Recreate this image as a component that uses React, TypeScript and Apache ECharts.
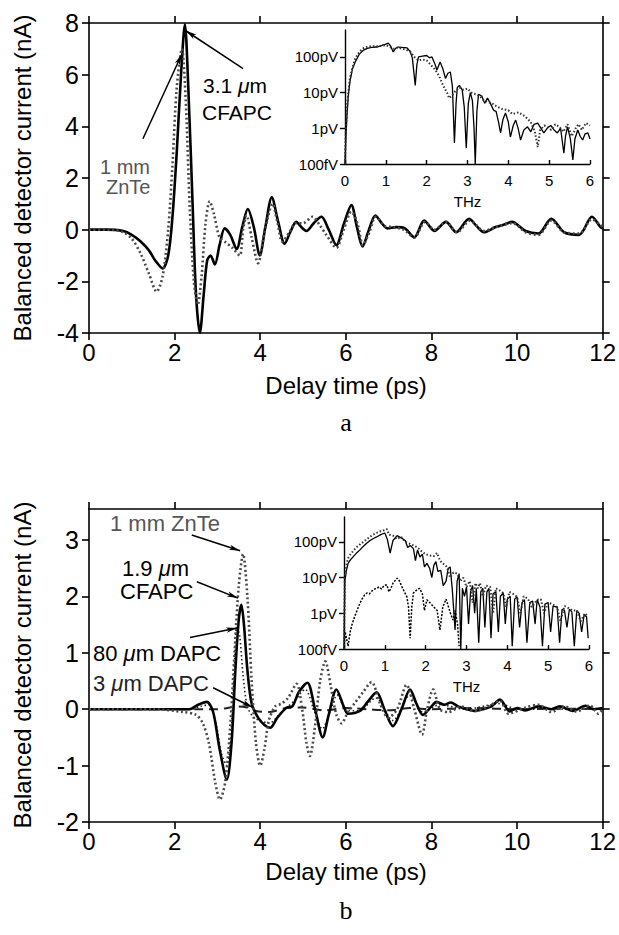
import React, { useEffect, useRef } from 'react';
import * as echarts from 'echarts';

// ---------- tick labels ----------
const delayTicks = [0, 2, 4, 6, 8, 10, 12];
const aCurrentTicks = [-4, -2, 0, 2, 4, 6, 8];
const bCurrentTicks = [-2, -1, 0, 1, 2, 3];
const thzTicks = [0, 1, 2, 3, 4, 5, 6];
const voltTickValues = [0.1, 1, 10, 100];
const voltTickLabels = ['100fV', '1pV', '10pV', '100pV'];

// ---------- panel a, time domain [ps, nA] ----------
const aCfapcTime = [[0,0],[0.4,0.0],[0.8,-0.05],[1.0,-0.2],[1.2,-0.45],[1.4,-0.8],[1.55,-1.2],[1.72,-1.5],[1.85,-1.0],[1.95,0.5],[2.05,3.0],[2.15,6.0],[2.24,7.95],[2.32,5.5],[2.42,1.0],[2.5,-2.5],[2.59,-4.0],[2.68,-2.5],[2.76,-1.2],[2.84,-1.0],[2.94,-1.35],[3.05,-0.6],[3.17,0.05],[3.3,-0.2],[3.45,-0.75],[3.58,0.1],[3.71,0.8],[3.85,0.1],[3.99,-1.0],[4.12,0.1],[4.27,1.25],[4.42,0.3],[4.57,-0.55],[4.7,-0.1],[4.84,0.3],[4.96,0.1],[5.08,-0.05],[5.25,0.25],[5.43,0.5],[5.6,0.0],[5.78,-0.6],[5.95,0.2],[6.13,0.95],[6.26,0.1],[6.39,-0.65],[6.54,0.0],[6.69,0.55],[6.84,0.25],[6.97,0.05],[7.18,0.1],[7.38,0.05],[7.6,-0.3],[7.83,0.35],[8.07,-0.05],[8.34,0.3],[8.58,-0.1],[8.88,0.42],[9.05,0.15],[9.23,-0.1],[9.5,0.1],[9.7,0.2],[9.88,0.3],[10.2,-0.05],[10.5,-0.15],[10.8,0.42],[11.1,-0.1],[11.45,-0.2],[11.75,0.5],[11.95,0.1],[12,0.05]];
const aZnteTime = [[0,0],[0.5,0.0],[0.8,-0.1],[1.0,-0.35],[1.2,-0.9],[1.4,-1.7],[1.58,-2.4],[1.72,-1.8],[1.85,0.0],[1.95,2.5],[2.05,5.5],[2.17,7.0],[2.26,5.0],[2.35,1.0],[2.45,-2.0],[2.54,-2.9],[2.63,-1.8],[2.72,0.2],[2.82,1.1],[2.92,0.6],[3.05,-0.3],[3.2,-0.5],[3.35,-0.7],[3.52,-1.0],[3.6,0.0],[3.68,0.55],[3.8,-0.3],[3.95,-1.3],[4.1,-0.1],[4.29,1.0],[4.4,0.3],[4.52,-0.47],[4.68,-0.1],[4.84,0.25],[5.0,0.25],[5.22,0.5],[5.4,0.15],[5.55,-0.22],[5.78,-0.7],[5.95,0.0],[6.13,0.7],[6.28,0.2],[6.4,-0.6],[6.55,-0.1],[6.7,0.5],[6.9,0.15],[7.1,0.1],[7.35,0.0],[7.6,-0.3],[7.85,0.3],[8.07,0.0],[8.34,0.3],[8.6,-0.1],[8.9,0.35],[9.23,-0.05],[9.5,0.1],[9.9,0.25],[10.2,-0.1],[10.5,-0.2],[10.8,0.35],[11.1,-0.1],[11.45,-0.15],[11.75,0.4],[12,0.1]];

// ---------- panel a, spectra [THz, pV] ----------
const aCfapcSpec = [[0,0.1],[0.02,0.5],[0.05,2.4],[0.08,8],[0.12,20],[0.18,45],[0.25,72],[0.35,120],[0.45,155],[0.55,175],[0.65,185],[0.78,190],[0.9,210],[1.0,230],[1.06,245],[1.12,200],[1.18,138],[1.24,175],[1.3,190],[1.4,185],[1.52,180],[1.6,140],[1.65,93],[1.72,16],[1.76,60],[1.8,100],[1.9,105],[2.0,110],[2.07,95],[2.13,100],[2.2,65],[2.25,43],[2.33,72],[2.4,45],[2.46,25],[2.52,35],[2.58,38],[2.63,15],[2.68,0.39],[2.72,5],[2.75,14],[2.8,16],[2.87,12],[2.92,4],[2.97,0.28],[3.02,5],[3.07,10],[3.12,6],[3.16,1],[3.19,0.1],[3.23,3],[3.27,9],[3.35,8],[3.42,5],[3.49,7],[3.56,5],[3.64,3.2],[3.7,3],[3.76,1.5],[3.81,0.74],[3.87,1.8],[3.93,2.7],[4.0,1.5],[4.05,0.57],[4.12,1.2],[4.18,1.7],[4.24,1.0],[4.3,0.47],[4.38,0.9],[4.47,1.1],[4.55,0.8],[4.63,1.3],[4.72,1.4],[4.8,1.0],[4.87,0.74],[4.95,1.0],[5.04,1.2],[5.12,0.9],[5.2,0.74],[5.28,1.0],[5.36,0.2],[5.4,0.6],[5.45,1.1],[5.52,0.5],[5.58,0.13],[5.63,0.5],[5.7,0.9],[5.76,0.6],[5.82,0.47],[5.88,0.7],[5.95,0.74],[6.0,0.5]];
const aZnteSpec = [[0,0.1],[0.02,0.8],[0.05,4],[0.08,10],[0.12,25],[0.18,50],[0.25,90],[0.35,140],[0.45,175],[0.55,195],[0.65,200],[0.78,200],[0.9,205],[1.0,215],[1.1,190],[1.2,170],[1.3,185],[1.4,170],[1.5,160],[1.6,140],[1.7,100],[1.8,80],[1.9,85],[2.0,80],[2.1,60],[2.2,45],[2.3,30],[2.4,16],[2.5,10],[2.55,7],[2.63,8.5],[2.7,11],[2.8,14],[2.9,12],[3.0,13],[3.1,10],[3.2,9],[3.3,8],[3.4,6],[3.5,5.5],[3.6,5],[3.73,4],[3.85,3.5],[4.0,3.2],[4.1,2.5],[4.25,2.8],[4.4,2.2],[4.55,1.5],[4.65,0.8],[4.72,0.3],[4.78,0.9],[4.88,1.2],[4.96,1.1],[5.05,0.9],[5.15,1.3],[5.25,1.1],[5.35,0.8],[5.45,1.3],[5.55,0.6],[5.65,1.0],[5.72,1.3],[5.8,0.9],[5.9,1.4],[6.0,1.2]];

// ---------- panel b, time domain [ps, nA] ----------
const bCfapcTime = [[0,0],[1,0],[2,0],[2.35,0.0],[2.55,0.08],[2.75,0.13],[2.9,-0.05],[3.05,-0.7],[3.22,-1.25],[3.33,-0.6],[3.42,0.7],[3.5,1.6],[3.56,1.85],[3.62,1.5],[3.7,0.7],[3.8,0.1],[3.95,-0.15],[4.1,-0.28],[4.23,-0.33],[4.4,-0.15],[4.62,0.03],[4.75,0.05],[4.9,0.3],[5.1,0.47],[5.28,0.0],[5.46,-0.5],[5.6,-0.1],[5.78,0.35],[5.95,0.05],[6.05,-0.08],[6.33,-0.03],[6.5,0.12],[6.72,0.3],[6.9,0.0],[7.1,-0.3],[7.3,0.0],[7.5,0.35],[7.65,0.1],[7.8,-0.1],[8.0,0.05],[8.12,0.13],[8.3,0.08],[8.45,0.12],[8.62,0.05],[8.82,0.0],[9.0,-0.03],[9.2,0.0],[9.4,0.05],[9.6,0.17],[9.83,-0.04],[10.0,0.02],[10.2,-0.02],[10.5,0.05],[10.8,0.0],[11.0,0.05],[11.3,-0.03],[11.6,0.06],[11.8,0.0],[12,0.02]];
const bZnteTime = [[0,0],[1.5,0],[2.2,-0.05],[2.5,-0.1],[2.66,-0.25],[2.8,-0.6],[2.95,-1.3],[3.06,-1.6],[3.18,-1.3],[3.3,-0.3],[3.4,1.0],[3.5,2.2],[3.6,2.75],[3.7,2.0],[3.8,0.5],[3.9,-0.6],[4.0,-1.0],[4.1,-0.7],[4.2,-0.2],[4.35,0.05],[4.5,0.1],[4.65,0.2],[4.85,0.45],[4.98,0.0],[5.08,-0.6],[5.16,-0.83],[5.28,-0.3],[5.4,0.5],[5.52,0.85],[5.65,0.4],[5.78,-0.1],[5.9,-0.25],[6.05,-0.05],[6.2,0.1],[6.4,0.3],[6.6,0.48],[6.8,0.1],[6.99,-0.15],[7.2,0.0],[7.42,0.43],[7.6,0.0],[7.78,-0.45],[7.9,0.0],[8.04,0.35],[8.2,0.0],[8.4,-0.05],[8.7,0.05],[9.0,-0.03],[9.3,0.04],[9.6,0.15],[9.8,-0.08],[10.2,0.03],[10.5,0.08],[10.8,-0.05],[11.1,0.05],[11.4,-0.04],[11.7,0.07],[11.9,-0.08],[12,0.0]];
const bDapc80Time = [[0,0],[2.4,0],[2.6,0.05],[2.8,0.08],[2.95,-0.2],[3.1,-0.8],[3.22,-1.0],[3.32,-0.4],[3.4,0.8],[3.45,1.45],[3.52,1.3],[3.6,0.6],[3.7,0.05],[3.85,-0.15],[4.0,-0.2],[4.2,-0.25],[4.5,-0.05],[4.8,0.15],[5.05,0.35],[5.25,0.0],[5.45,-0.35],[5.65,0.0],[5.8,0.25],[6.0,0.0],[6.3,-0.03],[6.7,0.2],[7.1,-0.2],[7.5,0.25],[7.8,-0.05],[8.2,0.08],[8.8,0.0],[9.6,0.1],[10,0],[12,0]];
const bDapc3Time = [[0,0],[3.0,0.0],[3.3,0.03],[3.5,0.05],[3.7,0.03],[3.9,-0.03],[4.2,-0.05],[4.6,0.02],[5.0,0.03],[5.5,-0.02],[6.0,0.02],[6.5,0.0],[7.0,-0.02],[7.5,0.02],[8.0,0.0],[9.0,0.02],[10,0],[11,0.01],[12,0]];

// ---------- panel b, spectra [THz, pV] ----------
const bCfapcSpec = [[0,0.1],[0.02,8],[0.06,16],[0.1,25],[0.16,32],[0.22,38],[0.3,48],[0.39,60],[0.47,75],[0.56,93],[0.64,110],[0.72,125],[0.8,138],[0.9,160],[1.0,178],[1.06,120],[1.13,49],[1.2,110],[1.3,150],[1.4,130],[1.5,110],[1.56,70],[1.62,80],[1.7,65],[1.75,30],[1.8,60],[1.86,38],[1.92,45],[1.97,20],[2.03,25],[2.1,18],[2.15,10],[2.2,22],[2.25,28],[2.3,15],[2.37,16],[2.43,6],[2.5,8],[2.55,18],[2.6,20],[2.65,5],[2.72,0.34],[2.77,8],[2.82,13],[2.86,0.1],[2.9,5],[2.95,3],[3.0,5.5],[3.05,0.5],[3.1,4],[3.15,6],[3.2,1],[3.24,5],[3.3,0.15],[3.35,4],[3.4,5],[3.45,0.4],[3.5,4],[3.55,5],[3.6,0.2],[3.65,3.5],[3.72,4],[3.78,0.3],[3.83,3],[3.9,3.7],[3.95,0.5],[4.0,2.5],[4.07,3],[4.12,0.12],[4.18,2.5],[4.24,2.9],[4.3,0.4],[4.36,2],[4.42,2.4],[4.48,0.15],[4.55,2],[4.62,2.2],[4.68,0.5],[4.73,2.4],[4.8,1.5],[4.86,0.12],[4.92,1.8],[5.0,2],[5.06,0.3],[5.12,1.6],[5.22,1.5],[5.28,0.15],[5.34,1.3],[5.4,1.2],[5.46,0.4],[5.52,1.3],[5.58,1.1],[5.64,0.12],[5.7,1.2],[5.76,1.0],[5.82,0.3],[5.88,0.9],[5.94,0.8],[5.98,0.2]];
const bZnteSpec = [[0,0.1],[0.02,10],[0.06,22],[0.1,35],[0.16,45],[0.22,55],[0.3,70],[0.39,85],[0.47,100],[0.56,120],[0.64,140],[0.72,160],[0.8,180],[0.9,200],[1.0,215],[1.05,230],[1.1,160],[1.2,150],[1.3,120],[1.4,140],[1.5,100],[1.6,90],[1.7,80],[1.8,70],[1.9,55],[2.0,45],[2.1,42],[2.2,40],[2.28,49],[2.35,30],[2.42,25],[2.52,20],[2.6,10],[2.68,14],[2.77,13],[2.85,8],[2.92,10],[3.0,5.5],[3.08,8],[3.15,2],[3.22,7],[3.28,5],[3.33,7],[3.4,3],[3.48,6],[3.58,5.5],[3.65,1],[3.72,5],[3.8,4.5],[3.9,3.7],[3.97,1.5],[4.05,4],[4.14,3.5],[4.24,2.9],[4.32,1],[4.4,3],[4.5,2.6],[4.6,1.5],[4.73,2.4],[4.82,2.5],[4.9,1],[5.0,2],[5.1,1.8],[5.22,1.5],[5.3,0.6],[5.4,1.6],[5.5,1.4],[5.6,1.2],[5.7,1.2],[5.8,0.6],[5.9,1.0],[5.98,0.8]];
const bDapc3Spec = [[0.0,0.1],[0.03,0.3],[0.06,0.2],[0.1,0.12],[0.15,0.3],[0.2,0.5],[0.26,0.8],[0.32,1.2],[0.38,1.8],[0.44,2.5],[0.5,3.2],[0.56,3.7],[0.62,3.5],[0.68,4.2],[0.75,4.8],[0.8,5],[0.86,5.5],[0.92,4.8],[0.98,6],[1.05,6.3],[1.1,4],[1.15,5],[1.2,7],[1.26,8.5],[1.3,9.7],[1.36,8],[1.42,5.5],[1.48,4],[1.54,2.9],[1.58,1.5],[1.62,0.2],[1.66,1.5],[1.7,3.7],[1.78,4.5],[1.85,5],[1.92,3.5],[1.97,1.2],[2.03,2.4],[2.1,2],[2.2,1.5],[2.28,1.2],[2.35,0.34],[2.42,1.5],[2.5,2.5],[2.56,1.5],[2.62,0.9],[2.67,0.65],[2.72,1.2],[2.78,0.5],[2.82,0.12]];

const FONT = '"Liberation Sans", Arial, Helvetica, sans-serif';

function mainX(gridIndex: number, position: 'bottom' | 'top') {
  return {
    gridIndex, type: 'value', min: 0, max: 12, interval: 2, position,
    axisLine: { show: true, onZero: false, lineStyle: { color: '#000', width: 1.6 } },
    axisTick: { show: true, inside: false, length: 7, lineStyle: { color: '#000', width: 1.6 } },
    axisLabel: { show: position === 'bottom', fontSize: 24, color: '#000', fontFamily: FONT, margin: 7,
      customValues: delayTicks },
    splitLine: { show: false },
  };
}
function mainY(gridIndex: number, position: 'left' | 'right', min: number, max: number, interval: number, ticks: number[]) {
  return {
    gridIndex, type: 'value', min, max, interval, position,
    axisLine: { show: true, onZero: false, lineStyle: { color: '#000', width: 1.6 } },
    axisTick: { show: true, inside: false, length: 7, lineStyle: { color: '#000', width: 1.6 }, customValues: ticks },
    axisLabel: { show: position === 'left', fontSize: 25, color: '#000', fontFamily: FONT, margin: 10, customValues: ticks },
    splitLine: { show: false },
  };
}
function insetX(gridIndex: number) {
  return {
    gridIndex, type: 'value', min: 0, max: 6, interval: 1, position: 'bottom',
    axisLine: { show: true, onZero: false, lineStyle: { color: '#000', width: 1.4 } },
    axisTick: { show: true, inside: true, length: 4, lineStyle: { color: '#000', width: 1.4 } },
    axisLabel: { fontSize: 15, color: '#000', fontFamily: FONT, margin: 9, customValues: thzTicks },
    name: 'THz', nameLocation: 'middle', nameGap: 30,
    nameTextStyle: { fontSize: 15, color: '#000', fontFamily: FONT },
    splitLine: { show: false },
  };
}
function insetY(gridIndex: number, max: number) {
  return {
    gridIndex, type: 'log', logBase: 10, min: 0.1, max, position: 'left',
    axisLine: { show: true, onZero: false, lineStyle: { color: '#000', width: 1.4 } },
    axisTick: { show: true, inside: false, length: 5, lineStyle: { color: '#000', width: 1.4 }, customValues: voltTickValues },
    axisLabel: {
      fontSize: 15, color: '#000', fontFamily: FONT, margin: 7, customValues: voltTickValues,
      formatter: (v: number) => {
        const i = voltTickValues.findIndex((t) => Math.abs(t - v) / t < 1e-6);
        return i >= 0 ? voltTickLabels[i] : '';
      },
    },
    splitLine: { show: false },
  };
}

const solidMain = { color: '#000', width: 2.6 };
const dottedMain = { color: '#4a4a4a', width: 2.6, type: [2, 2.6] };

function arrowLines(pairs: number[][][]) {
  return {
    silent: true, symbol: ['none', 'arrow'], symbolSize: [4, 11],
    lineStyle: { color: '#000', width: 1.5, type: 'solid' },
    label: { show: false },
    data: pairs.map(([a, b]) => [{ coord: a }, { coord: b }]),
  };
}

function txt(x: number, y: number, text: string, size: number, fill = '#000', align = 'left') {
  return {
    type: 'text', x, y, z: 50,
    style: {
      text, fontSize: size, fontFamily: FONT, fill, align, verticalAlign: 'middle',
      rich: { mu: { fontSize: size, fontFamily: FONT, fontStyle: 'italic', fill } },
    },
  };
}

export default function App() {
  const ref = useRef<HTMLDivElement>(null);
  useEffect(() => {
    if (!ref.current) return;
    const chart = echarts.init(ref.current, undefined, { renderer: 'svg' });
    const option: any = {
      animation: false,
      backgroundColor: '#fff',
      grid: [
        { left: 89, top: 23, width: 514, height: 310 },
        { left: 345, top: 30, width: 245, height: 134 },
        { left: 89, top: 509, width: 514, height: 313 },
        { left: 344, top: 517, width: 245, height: 132 },
      ],
      xAxis: [mainX(0, 'bottom'), mainX(0, 'top'), insetX(1), mainX(2, 'bottom'), mainX(2, 'top'), insetX(3)],
      yAxis: [
        mainY(0, 'left', -4, 8, 2, aCurrentTicks), mainY(0, 'right', -4, 8, 2, aCurrentTicks), insetY(1, 570),
        mainY(2, 'left', -2, 3.55, 1, bCurrentTicks), mainY(2, 'right', -2, 3.55, 1, bCurrentTicks), insetY(3, 500),
      ],
      series: [
        { type: 'line', xAxisIndex: 0, yAxisIndex: 0, data: aCfapcTime, showSymbol: false, smooth: 0.3, lineStyle: solidMain,
          markLine: arrowLines([[[3.6, 6.23], [2.26, 7.7]], [[1.26, 3.52], [2.17, 6.8]]]) },
        { type: 'line', xAxisIndex: 0, yAxisIndex: 0, data: aZnteTime, showSymbol: false, smooth: 0.3, lineStyle: dottedMain },
        { type: 'line', xAxisIndex: 2, yAxisIndex: 2, data: aCfapcSpec, showSymbol: false, lineStyle: { color: '#000', width: 1.3 } },
        { type: 'line', xAxisIndex: 2, yAxisIndex: 2, data: aZnteSpec, showSymbol: false, lineStyle: { color: '#333', width: 2, type: [1.5, 2] } },

        { type: 'line', xAxisIndex: 3, yAxisIndex: 3, data: bDapc3Time, showSymbol: false, smooth: 0.3, lineStyle: { color: '#222', width: 2, type: [9, 6] } },
        { type: 'line', xAxisIndex: 3, yAxisIndex: 3, data: bDapc80Time, showSymbol: false, smooth: 0.3, lineStyle: { color: '#222', width: 1.6, type: [1.5, 2.5] } },
        { type: 'line', xAxisIndex: 3, yAxisIndex: 3, data: bCfapcTime, showSymbol: false, smooth: 0.3, lineStyle: solidMain,
          markLine: arrowLines([[[2.4, 3.09], [3.53, 2.81]], [[2.52, 2.26], [3.48, 1.97]], [[2.36, 1.27], [3.46, 1.44]], [[2.9, 0.38], [3.83, 0.03]]]) },
        { type: 'line', xAxisIndex: 3, yAxisIndex: 3, data: bZnteTime, showSymbol: false, smooth: 0.3, lineStyle: dottedMain },
        { type: 'line', xAxisIndex: 5, yAxisIndex: 5, data: bDapc3Spec, showSymbol: false, lineStyle: { color: '#000', width: 1.5, type: [2, 1.5] } },
        { type: 'line', xAxisIndex: 5, yAxisIndex: 5, data: bCfapcSpec, showSymbol: false, lineStyle: { color: '#000', width: 1.3 } },
        { type: 'line', xAxisIndex: 5, yAxisIndex: 5, data: bZnteSpec, showSymbol: false, lineStyle: { color: '#333', width: 2, type: [1.5, 2] } },
      ],
      graphic: [
        { type: 'text', x: 22, y: 178, rotation: Math.PI / 2, z: 50,
          style: { text: 'Balanced detector current (nA)', fontSize: 24, fontFamily: FONT, fill: '#000', align: 'center', verticalAlign: 'middle' } },
        { type: 'text', x: 22, y: 665, rotation: Math.PI / 2, z: 50,
          style: { text: 'Balanced detector current (nA)', fontSize: 24, fontFamily: FONT, fill: '#000', align: 'center', verticalAlign: 'middle' } },
        txt(346, 385, 'Delay time (ps)', 24, '#000', 'center'),
        txt(346, 871, 'Delay time (ps)', 24, '#000', 'center'),
        { type: 'text', x: 346, y: 422, z: 50, style: { text: 'a', fontSize: 26, fontFamily: '"Liberation Serif", "DejaVu Serif", serif', fill: '#000', align: 'center', verticalAlign: 'middle' } },
        { type: 'text', x: 346, y: 910, z: 50, style: { text: 'b', fontSize: 26, fontFamily: '"Liberation Serif", "DejaVu Serif", serif', fill: '#000', align: 'center', verticalAlign: 'middle' } },
        txt(203, 85, '3.1 {mu|μ}m', 21),
        txt(202, 112, 'CFAPC', 21),
        txt(100, 167, '1 mm', 20, '#555'),
        txt(106, 187, 'ZnTe', 20, '#555'),
        txt(110, 523, '1 mm ZnTe', 22, '#555'),
        txt(122, 568, '1.9 {mu|μ}m', 22),
        txt(120, 591, 'CFAPC', 22),
        txt(93, 653, '80 {mu|μ}m DAPC', 22),
        txt(93, 683, '3 {mu|μ}m DAPC', 22, '#222'),
      ],
    };
    chart.setOption(option);
    return () => chart.dispose();
  }, []);
  return <div ref={ref} style={{ position: 'fixed', left: 0, top: 0, width: 619, height: 935, background: '#fff' }} />;
}
